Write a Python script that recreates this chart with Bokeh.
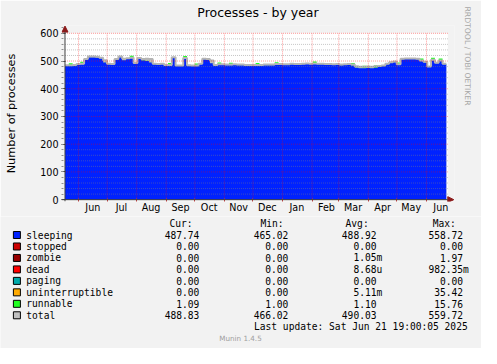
from datetime import datetime, timedelta

from bokeh.plotting import figure
from bokeh.layouts import column
from bokeh.models import (Range1d, LinearAxis, FixedTicker, SingleIntervalTicker,
                          Arrow, NormalHead, ColumnDataSource, Title)
from bokeh.core.properties import value
from bokeh.embed import file_html
from bokeh.resources import INLINE

# ---------------- data ----------------
END = datetime(2025, 6, 21, 19, 0, 5)
SPAN_DAYS = 400
BIN_DAYS = 4

sleeping = [
    483, 483, 484, 487, 488, 505, 514, 514, 513, 510,
    495, 488, 487, 505, 514, 503, 508, 510, 491, 508,
    502, 500, 495, 488, 487, 488, 484, 484, 512, 482,
    482, 509, 483, 482, 482, 488, 506, 505, 492, 484,
    486, 486, 485, 485, 486, 485, 485, 484, 484, 484,
    484, 484, 485, 485, 485, 487, 487, 486, 486, 488,
    487, 487, 488, 489, 488, 489, 488, 488, 487, 487,
    486, 487, 485, 486, 487, 484, 476, 474, 474, 475,
    474, 476, 478, 482, 488, 494, 496, 486, 506, 507,
    507, 507, 506, 500, 495, 478, 503, 492, 500, 488,
]
total = [
    485, 485, 486, 489, 490, 507, 516, 516, 515, 512,
    503, 490, 489, 507, 516, 508, 510, 512, 493, 511,
    507, 508, 507, 490, 489, 490, 486, 486, 514, 484,
    484, 511, 485, 484, 484, 490, 508, 507, 502, 486,
    488, 488, 487, 487, 488, 487, 487, 486, 486, 486,
    486, 486, 487, 487, 487, 489, 489, 488, 488, 490,
    489, 489, 490, 491, 490, 491, 490, 490, 489, 489,
    488, 489, 487, 488, 489, 487, 481, 479, 479, 480,
    479, 481, 482, 484, 490, 496, 498, 488, 508, 509,
    509, 509, 508, 502, 497, 480, 505, 494, 502, 490,
]
runnable = [
    1, 9, 1, 1, 9, 1, 1, 1, 1, 1,
    1, 1, 1, 1, 1, 1, 1, 9, 1, 1,
    9, 1, 1, 1, 1, 1, 1, 9, 1, 1,
    1, 9, 1, 1, 9, 1, 1, 1, 1, 1,
    9, 1, 1, 9, 1, 1, 1, 1, 1, 1,
    9, 1, 1, 1, 1, 9, 1, 1, 1, 1,
    1, 1, 1, 1, 1, 9, 1, 1, 1, 1,
    1, 1, 1, 1, 1, 9, 1, 1, 9, 1,
    1, 9, 1, 1, 1, 1, 1, 9, 1, 1,
    1, 1, 1, 9, 1, 1, 9, 1, 9, 1,
]

month_list = [(2024, 6), (2024, 7), (2024, 8), (2024, 9), (2024, 10), (2024, 11), (2024, 12),
              (2025, 1), (2025, 2), (2025, 3), (2025, 4), (2025, 5), (2025, 6)]
month_labels = ["Jun", "Jul", "Aug", "Sep", "Oct", "Nov", "Dec",
                "Jan", "Feb", "Mar", "Apr", "May", "Jun"]
y_major = [100, 200, 300, 400, 500, 600]
y_minor = [v for v in range(20, 600, 20) if v % 100 != 0]

legend_names = ["sleeping", "stopped", "zombie", "dead", "paging",
                "uninterruptible", "runnable", "total"]
legend_colors = ["#0022ff", "#cc0000", "#990000", "#ff0000", "#00aaaa",
                 "#ffaa00", "#22ff22", "#c0c0c0"]
cur_vals = ["487.74", "0.00", "0.00", "0.00", "0.00", "0.00", "1.09", "488.83"]
min_vals = ["465.02", "0.00", "0.00", "0.00", "0.00", "0.00", "1.00", "466.02"]
avg_vals = ["488.92", "0.00", "1.05m", "8.68u", "0.00", "5.11m", "1.10", "490.03"]
max_vals = ["558.72", "0.00", "1.97", "982.35m", "0.00", "35.42", "15.76", "559.72"]
last_update = "Last update: Sat Jun 21 19:00:05 2025"

# ---------------- helpers ----------------
EPOCH = datetime(1970, 1, 1)


def ms(d):
    return (d - EPOCH).total_seconds() * 1000.0


START = END - timedelta(days=SPAN_DAYS)
xs = [ms(START + timedelta(days=BIN_DAYS * i)) for i in range(len(sleeping))] + [ms(END)]
s_y = sleeping + [sleeping[-1]]
t_y = total + [total[-1]]
r_top = [s + r for s, r in zip(sleeping, runnable)]
r_top = r_top + [r_top[-1]]

month_start_ms = [ms(datetime(y, m, 1)) for y, m in month_list]
month_mid_ms = [ms(datetime(y, m, 16)) for y, m in month_list]

BG = "#f2f2f2"
AXIS = "#404040"
ARROW = "#8b1a1a"
SANS = "DejaVu Sans"
MONO = "DejaVu Sans Mono"

# ---------------- main chart ----------------
W = 481
HT = 216
x0 = ms(START)
x_canvas_end = ms(END + timedelta(days=1.6))
p = figure(width=W, height=HT, output_backend="svg", toolbar_location=None,
           x_range=Range1d(ms(START - timedelta(days=3.67)), ms(END + timedelta(days=8.58))),
           y_range=Range1d(-6.64, 628.1),
           x_axis_type=None, y_axis_type=None,
           min_border_left=61, min_border_right=21, min_border_top=24, min_border_bottom=15,
           background_fill_color=BG, border_fill_color=BG, outline_line_color=None)
p.grid.visible = False
p.frame_align = False

# white canvas of the graph
p.quad(left=[x0], right=[x_canvas_end], bottom=[0], top=[600],
       fill_color="white", line_color=None)

src = ColumnDataSource(dict(x=xs, s=s_y, t=t_y, r=r_top))
p.varea_step(x="x", y1=0, y2="t", source=src, fill_color="#c0c0c0", step_mode="after")
p.varea_step(x="x", y1="s", y2="r", source=src, fill_color="#22ff22", step_mode="after")
p.varea_step(x="x", y1=0, y2="s", source=src, fill_color="#0022ff", step_mode="after")
p.step(x="x", y="t", source=src, line_color="#b4b4b4", line_width=2, mode="after")

# grid lines drawn on top of the data, like rrdtool
p.segment(x0=[x0] * len(y_minor), x1=[x_canvas_end] * len(y_minor), y0=y_minor, y1=y_minor,
          line_color="#808080", line_alpha=0.45, line_dash="1 1", line_width=1)
p.segment(x0=[x0] * len(y_major), x1=[x_canvas_end] * len(y_major), y0=y_major, y1=y_major,
          line_color="#ff0000", line_alpha=0.4, line_dash="1 1", line_width=1)
p.segment(x0=month_start_ms, x1=month_start_ms, y0=[0] * len(month_start_ms),
          y1=[600] * len(month_start_ms),
          line_color="#ff0000", line_alpha=0.4, line_dash="1 1", line_width=1)

yticker = SingleIntervalTicker(interval=100, num_minor_ticks=5)
yaxis = LinearAxis(ticker=yticker, axis_line_color=None,
                   major_tick_out=0, major_tick_in=4, major_tick_line_color=AXIS,
                   minor_tick_out=0, minor_tick_in=2, minor_tick_line_color="#909090",
                   major_label_standoff=3, major_label_text_font=SANS,
                   major_label_text_font_size="9.6px", major_label_text_color="black",
                   axis_label="Number of processes", axis_label_standoff=19,
                   axis_label_text_font=SANS, axis_label_text_font_size="11.3px",
                   axis_label_text_font_style="normal", axis_label_text_color="black")
p.add_layout(yaxis, "left")

xticker = FixedTicker(ticks=month_mid_ms, minor_ticks=month_start_ms)
xaxis = LinearAxis(ticker=xticker, axis_line_color=None,
                   major_tick_out=0, major_tick_in=0,
                   minor_tick_out=0, minor_tick_in=3, minor_tick_line_color="#c04040",
                   major_label_standoff=0, major_label_text_font=SANS,
                   major_label_text_font_size="9.6px", major_label_text_color="black",
                   major_label_overrides={v: lab for v, lab in zip(month_mid_ms, month_labels)})
p.add_layout(xaxis, "below")

# axis lines with arrows
p.add_layout(Arrow(end=NormalHead(size=6, fill_color=ARROW, line_color=ARROW),
                   x_start=x0, y_start=-6.6, x_end=x0, y_end=626,
                   line_color=AXIS, line_width=1))
p.add_layout(Arrow(end=NormalHead(size=6, fill_color=ARROW, line_color=ARROW),
                   x_start=ms(START - timedelta(days=3.67)), y_start=0,
                   x_end=ms(END + timedelta(days=7.8)), y_end=0,
                   line_color=AXIS, line_width=1))

p.add_layout(Title(text="Processes - by year", align="center", vertical_align="top", standoff=8,
                   text_font=SANS, text_font_size="12.5px", text_font_style="normal",
                   text_color="black"), "above")
p.add_layout(Title(text="RRDTOOL / TOBI OETIKER", align="left", offset=-19, standoff=16,
                   text_font=SANS, text_font_size="7.7px", text_font_style="normal",
                   text_color="#a8a8a8"), "right")

# ---------------- legend panel ----------------
HL = 348 - HT
q = figure(width=W, height=HL, output_backend="svg", toolbar_location=None,
           x_range=Range1d(0, W), y_range=Range1d(HL, 0),
           x_axis_type=None, y_axis_type=None, min_border=0,
           background_fill_color=BG, border_fill_color=BG, outline_line_color=None)
q.grid.visible = False
q.frame_align = False

row_y = [18.5 + 11.47 * k for k in range(len(legend_names))]
q.rect(x=[16.4] * len(row_y), y=row_y, width=7, height=7,
       fill_color=legend_colors, line_color="black", line_width=1)
q.text(x=[25.8] * len(row_y), y=row_y, text=legend_names,
       text_font=value(MONO), text_font_size="9.6px", text_baseline="middle",
       text_align="left", text_color="black")

col_right = [198.9, 287.9, 376.0, 462.6]
for right, vals in zip(col_right, [cur_vals, min_vals, avg_vals, max_vals]):
    xr = [right + (5.8 if v[-1].isalpha() else 0) for v in vals]
    q.text(x=xr, y=row_y, text=vals, text_font=value(MONO), text_font_size="9.6px",
           text_baseline="middle", text_align="right", text_color="black")

q.text(x=[180.5, 271.5, 356.6, 443.7], y=[7.0] * 4, text=["Cur:", "Min:", "Avg:", "Max:"],
       text_font=value(MONO), text_font_size="9.6px", text_baseline="middle",
       text_align="center", text_color="black")
q.text(x=[467.2], y=[110.3], text=[last_update], text_font=value(MONO), text_font_size="9.6px",
       text_baseline="middle", text_align="right", text_color="black")
q.text(x=[240], y=[121.8], text=["Munin 1.4.5"], text_font=value(SANS), text_font_size="7.2px",
       text_baseline="middle", text_align="center", text_color="#a0a0a0")

layout = column(p, q, spacing=0)
open("out.html", "w").write(file_html(layout, INLINE))
